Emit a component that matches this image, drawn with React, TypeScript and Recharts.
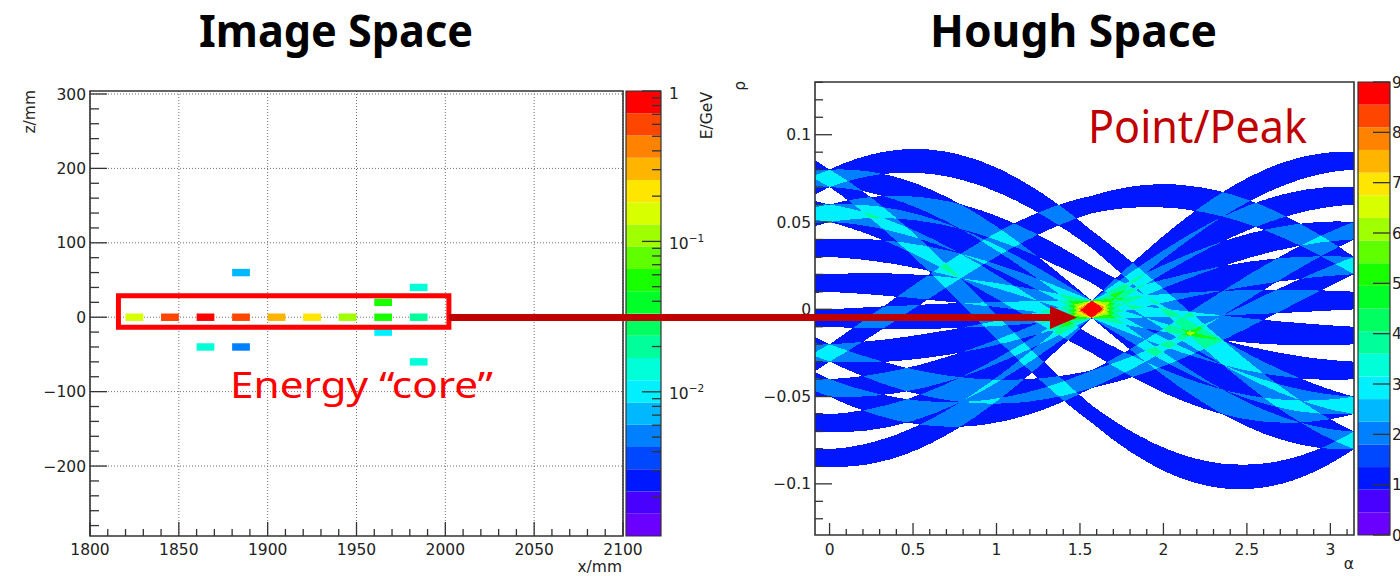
import React from 'react';
import { ComposedChart, XAxis, YAxis, CartesianGrid, ReferenceArea, Area } from 'recharts';

// ---------------- Image space: calorimeter cells (centre x, z in mm; energy in GeV) ----------------
const cellX = [1825, 1845, 1865, 1885, 1905, 1925, 1945, 1965, 1985, 1885, 1865, 1885, 1965, 1965, 1985, 1985];
const cellZ = [0, 0, 0, 0, 0, 0, 0, 0, 0, 60, -40, -40, 20, -20, 40, -60];
const cellE = [0.15, 0.6, 0.9, 0.6, 0.3, 0.21, 0.11, 0.05, 0.022, 0.007, 0.014, 0.005, 0.055, 0.01, 0.014, 0.014];
const CELL_SIZE = 10; // mm

const imgXDomain = [1800, 2100];
const imgZDomain = [-294, 304];
const imgXLabels = [1800, 1850, 1900, 1950, 2000, 2050, 2100];
const imgZLabels = [-200, -100, 0, 100, 200, 300];
const energyDomain = [0.0011, 1];
const energyLabels = [0.01, 0.1, 1];
const coreBoxX = [1816, 2002];
const coreBoxZ = [-13.5, 29];

// ---------------- Hough space ----------------
const alphaDomain = [-Math.PI / 36, Math.PI];
const rhoDomain = [-0.1293, 0.1302];
const alphaLabels = [0, 0.5, 1, 1.5, 2, 2.5, 3];
const rhoLabels = [-0.1, -0.05, 0, 0.05, 0.1];
const countDomain = [0, 9];
const countLabels = [0, 1, 2, 3, 4, 5, 6, 7, 8, 9];
const X_REF = 1910; // mm, x origin of the transform
const ALPHA_SAMPLES = 260;

// ---------------- palette (20 colour bands) ----------------
const PALETTE = ['#6a00ff', '#4800ff', '#0018ff', '#0048ff', '#0080ff', '#00b8ff', '#00f0ff', '#00ffd8', '#00ff9a', '#00ff60',
  '#00ff28', '#18ff00', '#60ff00', '#a0ff00', '#d8ff00', '#ffe600', '#ffb400', '#ff8200', '#ff4600', '#ff0000'];

const W = 1400, H = 576;
const AXIS = '#333';
const TICK_FONT = '"DejaVu Sans", "Liberation Sans", sans-serif';
const TITLE_FONT = '"Noto Sans", "Open Sans", sans-serif';

const LEFT_PLOT = { x0: 90, x1: 623, y0: 91, y1: 536 };
const LEFT_BAR = { x0: 626, x1: 661, y0: 91, y1: 536 };
const RIGHT_PLOT = { x0: 815, x1: 1354, y0: 82, y1: 535 };
const RIGHT_BAR = { x0: 1358, x1: 1390, y0: 82, y1: 535 };

const range = (a: number, b: number, step: number) => {
  const n = Math.round((b - a) / step);
  const out: number[] = [];
  for (let i = 0; i <= n; i++) out.push(+(a + i * step).toFixed(6));
  return out;
};

const imgXTicks = range(1800, 2100, 10);
const imgZTicks = range(-280, 300, 20);
const alphaTicks = range(0, 3.1, 0.1);
const rhoTicks = range(-0.12, 0.13, 0.01);
const energyTicks = [...range(0.002, 0.009, 0.001), ...range(0.01, 0.09, 0.01), ...range(0.1, 1, 0.1)];

const energyColor = (e: number) => {
  const l0 = Math.log10(energyDomain[0]), l1 = Math.log10(energyDomain[1]);
  const i = Math.floor(((Math.log10(e) - l0) / (l1 - l0)) * PALETTE.length);
  return PALETTE[Math.max(0, Math.min(PALETTE.length - 1, i))];
};
const countColor = (c: number) => {
  const i = Math.floor(((c - countDomain[0]) / (countDomain[1] - countDomain[0])) * PALETTE.length);
  return PALETTE[Math.max(0, Math.min(PALETTE.length - 1, i))];
};

// Hough transform of each cell: rho(alpha) = ((x - X_REF) cos a + z sin a) / 1000, band = projected cell size
const houghRows = Array.from({ length: ALPHA_SAMPLES + 1 }, (_, i) => {
  const a = alphaDomain[0] + ((alphaDomain[1] - alphaDomain[0]) * i) / ALPHA_SAMPLES;
  const c = Math.cos(a), s = Math.sin(a);
  const row: any = { a };
  cellX.forEach((x, k) => {
    const rho = ((x - X_REF) * c + cellZ[k] * s) / 1000;
    const hw = ((CELL_SIZE / 2) * (Math.abs(c) + Math.abs(s))) / 1000;
    row['b' + k] = [rho - hw, rho + hw];
  });
  return row;
});

// SVG filter: accumulated alpha of the overlapping bands -> overlap count -> palette colour
const BAND_OPACITY = 0.1;
const countFromAlpha = (a: number) =>
  a < 0.05 ? 0 : Math.max(1, Math.round(Math.log(1 - Math.min(a, 0.995)) / Math.log(1 - BAND_OPACITY)));
const channelTable = (ch: number) =>
  Array.from({ length: 256 }, (_, k) => {
    const c = countFromAlpha(k / 255);
    if (c === 0) return '1';
    const hex = countColor(Math.min(c, 9));
    return (parseInt(hex.slice(1 + 2 * ch, 3 + 2 * ch), 16) / 255).toFixed(4);
  }).join(' ');

const fmt = (v: number) => (v < 0 ? '\u2212' : '') + String(Math.abs(v));

type TickCfg = {
  side: 'bottom' | 'left' | 'right';
  major: number;
  minor: number;
  isMajor: (v: number) => boolean;
  label: (v: number) => React.ReactNode;
  gap: number;
  dy?: number;
};
const makeTick = (cfg: TickCfg) => (props: any) => {
  const { x, y, payload } = props;
  const v = payload.value as number;
  const maj = cfg.isMajor(v);
  const len = maj ? cfg.major : cfg.minor;
  const common = { fontFamily: TICK_FONT, fontSize: 15.5, fill: '#222' };
  if (cfg.side === 'bottom') {
    return (
      <g>
        <line x1={x} y1={y} x2={x} y2={y - len} stroke={AXIS} strokeWidth={1.3} />
        {maj && <text x={x} y={y + cfg.gap} textAnchor="middle" {...common}>{cfg.label(v)}</text>}
      </g>
    );
  }
  if (cfg.side === 'left') {
    return (
      <g>
        <line x1={x} y1={y} x2={x + len} y2={y} stroke={AXIS} strokeWidth={1.3} />
        {maj && <text x={x - cfg.gap} y={y + (cfg.dy || 0)} dy="0.36em" textAnchor="end" {...common}>{cfg.label(v)}</text>}
      </g>
    );
  }
  return (
    <g>
      <line x1={x} y1={y} x2={x - len} y2={y} stroke={AXIS} strokeWidth={1.3} />
      {maj && <text x={x + cfg.gap} y={y + (cfg.dy || 0)} dy="0.36em" textAnchor="start" {...common}>{cfg.label(v)}</text>}
    </g>
  );
};

const imgXTick = makeTick({ side: 'bottom', major: 14, minor: 7, isMajor: (v) => imgXLabels.includes(v), label: fmt, gap: 19 });
const imgZTick = makeTick({ side: 'left', major: 17, minor: 9, isMajor: (v) => imgZLabels.includes(v), label: fmt, gap: 4 });
const alphaTick = makeTick({ side: 'bottom', major: 12, minor: 6, isMajor: (v) => alphaLabels.some((l) => Math.abs(l - v) < 1e-6), label: fmt, gap: 19.5 });
const rhoTick = makeTick({ side: 'left', major: 17, minor: 8, isMajor: (v) => rhoLabels.some((l) => Math.abs(l - v) < 1e-6), label: fmt, gap: 4 });
const energyTick = makeTick({
  side: 'right', major: 19, minor: 9, gap: 8, dy: 2,
  isMajor: (v) => energyLabels.some((l) => Math.abs(l - v) < 1e-9),
  label: (v) => (v === 1 ? '1' : (
    <>
      <tspan>10</tspan>
      <tspan dy={-7} fontSize={10.5}>{'\u2212' + Math.round(-Math.log10(v))}</tspan>
    </>
  )),
});
const countTick = makeTick({ side: 'right', major: 17, minor: 17, gap: 2, isMajor: () => true, label: (v) => String(v) });

const plotMargin = (r: { x0: number; x1: number; y0: number; y1: number }) => ({
  left: r.x0 - 50, right: W - r.x1, top: r.y0, bottom: H - r.y1 - 30,
});
const barMargin = (r: { x0: number; x1: number; y0: number; y1: number }, axisW: number) => ({
  left: r.x0, right: W - r.x1 - axisW, top: r.y0, bottom: H - r.y1,
});

const abs: React.CSSProperties = { position: 'absolute', left: 0, top: 0 };

const cellRows = cellX.map((x, i) => ({ x, z: cellZ[i], e: cellE[i] }));

function ImageSpace() {
  return (
    <div style={abs}>
      <ComposedChart width={W} height={H} margin={plotMargin(LEFT_PLOT)} data={cellRows}>
        <XAxis type="number" dataKey="x" domain={imgXDomain} allowDataOverflow ticks={imgXTicks} interval={0}
          tickSize={0} tickMargin={0} tickLine={false} axisLine={false} height={30} tick={imgXTick} />
        <YAxis type="number" dataKey="z" domain={imgZDomain} allowDataOverflow ticks={imgZTicks} interval={0}
          tickSize={0} tickMargin={0} tickLine={false} axisLine={false} width={50} tick={imgZTick} />
        {cellRows.map((c, i) => (
          <ReferenceArea key={i} x1={c.x - CELL_SIZE / 2} x2={c.x + CELL_SIZE / 2} y1={c.z - CELL_SIZE / 2} y2={c.z + CELL_SIZE / 2}
            fill={energyColor(c.e)} fillOpacity={1} stroke="none" ifOverflow="visible" />
        ))}
        <CartesianGrid horizontalValues={imgZLabels} verticalValues={imgXLabels} stroke="#6f6f6f" strokeDasharray="1 2" />
        <ReferenceArea x1={imgXDomain[0]} x2={imgXDomain[1]} y1={imgZDomain[0]} y2={imgZDomain[1]} fill="none"
          stroke={AXIS} strokeWidth={1.6} ifOverflow="visible" />
        <ReferenceArea x1={coreBoxX[0]} x2={coreBoxX[1]} y1={coreBoxZ[0]} y2={coreBoxZ[1]} fill="none"
          stroke="#ff0000" strokeWidth={5} ifOverflow="visible" />
      </ComposedChart>
    </div>
  );
}

function EnergyBar() {
  const l0 = Math.log10(energyDomain[0]), l1 = Math.log10(energyDomain[1]);
  const edges = PALETTE.map((_, i) => Math.pow(10, l0 + ((l1 - l0) * i) / PALETTE.length)).concat([energyDomain[1]]);
  return (
    <div style={abs}>
      <ComposedChart width={W} height={H} margin={barMargin(LEFT_BAR, 40)} data={[{ u: 0 }, { u: 1 }]}>
        <XAxis type="number" dataKey="u" domain={[0, 1]} hide allowDataOverflow />
        <YAxis type="number" orientation="right" scale="log" domain={energyDomain} allowDataOverflow ticks={energyTicks}
          interval={0} tickSize={0} tickMargin={0} tickLine={false} axisLine={false} width={40} tick={energyTick} />
        {PALETTE.map((col, i) => (
          <ReferenceArea key={i} x1={0} x2={1} y1={edges[i]} y2={edges[i + 1]} fill={col} fillOpacity={1} stroke="none" ifOverflow="visible" />
        ))}
        <ReferenceArea x1={0} x2={1} y1={energyDomain[0]} y2={energyDomain[1]} fill="none" stroke={AXIS} strokeWidth={1.2} ifOverflow="visible" />
      </ComposedChart>
    </div>
  );
}

function HoughBands() {
  const w = RIGHT_PLOT.x1 - RIGHT_PLOT.x0, h = RIGHT_PLOT.y1 - RIGHT_PLOT.y0;
  return (
    <div style={{ position: 'absolute', left: RIGHT_PLOT.x0, top: RIGHT_PLOT.y0, width: w, height: h, filter: 'url(#houghCounts)' }}>
      <ComposedChart width={w} height={h} margin={{ top: 0, right: 0, bottom: 0, left: 0 }} data={houghRows}>
        <XAxis type="number" dataKey="a" domain={alphaDomain} allowDataOverflow hide height={0} />
        <YAxis type="number" domain={rhoDomain} allowDataOverflow hide width={0} />
        {cellX.map((_, k) => (
          <Area key={k} dataKey={'b' + k} type="linear" fill="#000" fillOpacity={BAND_OPACITY} stroke="none"
            dot={false} activeDot={false} isAnimationActive={false} />
        ))}
      </ComposedChart>
    </div>
  );
}

function HoughAxes() {
  return (
    <div style={abs}>
      <ComposedChart width={W} height={H} margin={plotMargin(RIGHT_PLOT)} data={houghRows}>
        <XAxis type="number" dataKey="a" domain={alphaDomain} allowDataOverflow ticks={alphaTicks} interval={0}
          tickSize={0} tickMargin={0} tickLine={false} axisLine={false} height={30} tick={alphaTick} />
        <YAxis type="number" domain={rhoDomain} allowDataOverflow ticks={rhoTicks} interval={0}
          tickSize={0} tickMargin={0} tickLine={false} axisLine={false} width={50} tick={rhoTick} />
        <ReferenceArea x1={alphaDomain[0]} x2={alphaDomain[1]} y1={rhoDomain[0]} y2={rhoDomain[1]} fill="none"
          stroke={AXIS} strokeWidth={1.6} ifOverflow="visible" />
      </ComposedChart>
    </div>
  );
}

function CountBar() {
  const edges = PALETTE.map((_, i) => countDomain[0] + ((countDomain[1] - countDomain[0]) * i) / PALETTE.length).concat([countDomain[1]]);
  return (
    <div style={abs}>
      <ComposedChart width={W} height={H} margin={barMargin(RIGHT_BAR, 10)} data={[{ u: 0 }, { u: 1 }]}>
        <XAxis type="number" dataKey="u" domain={[0, 1]} hide allowDataOverflow />
        <YAxis type="number" orientation="right" domain={countDomain} allowDataOverflow ticks={countLabels}
          interval={0} tickSize={0} tickMargin={0} tickLine={false} axisLine={false} width={10} tick={countTick} />
        {PALETTE.map((col, i) => (
          <ReferenceArea key={i} x1={0} x2={1} y1={edges[i]} y2={edges[i + 1]} fill={col} fillOpacity={1} stroke="none" ifOverflow="visible" />
        ))}
        <ReferenceArea x1={0} x2={1} y1={countDomain[0]} y2={countDomain[1]} fill="none" stroke={AXIS} strokeWidth={1.2} ifOverflow="visible" />
      </ComposedChart>
    </div>
  );
}

function Annotations() {
  const axisText = { fontFamily: TICK_FONT, fontSize: 15.5, fill: '#222' };
  return (
    <svg width={W} height={H} style={{ ...abs, pointerEvents: 'none' }}>
      <text x={336} y={47} textAnchor="middle" fontFamily={TITLE_FONT} fontWeight={700} fontSize={44} fill="#000"
        textLength={274} lengthAdjust="spacingAndGlyphs">Image Space</text>
      <text x={1073.5} y={47} textAnchor="middle" fontFamily={TITLE_FONT} fontWeight={700} fontSize={44} fill="#000"
        textLength={287} lengthAdjust="spacingAndGlyphs">Hough Space</text>

      <text x={35} y={90} transform="rotate(-90 35 90)" textAnchor="end" {...axisText}>z/mm</text>
      <text x={622} y={572} textAnchor="end" {...axisText}>x/mm</text>
      <text x={712} y={92} transform="rotate(-90 712 92)" textAnchor="end" {...axisText}>E/GeV</text>
      <text x={745} y={81} transform="rotate(-90 745 81)" textAnchor="end" {...axisText}>ρ</text>
      <text x={1354} y={569} textAnchor="end" {...axisText}>α</text>

      <text x={230} y={398} fontFamily={TITLE_FONT} fontSize={37} fill="#ff0000"
        textLength={263} lengthAdjust="spacingAndGlyphs">Energy “core”</text>
      <text x={1088} y={142.7} fontFamily={TITLE_FONT} fontSize={46} fill="#c00000"
        textLength={219} lengthAdjust="spacingAndGlyphs">Point/Peak</text>

      <line x1={449} y1={317.5} x2={1052} y2={317.5} stroke="#c00000" strokeWidth={7} />
      <polygon points="1050,306 1077,317.5 1050,329" fill="#c00000" />
    </svg>
  );
}

export default function App() {
  return (
    <div style={{ position: 'fixed', left: 0, top: 0, width: W, height: H, overflow: 'hidden', background: '#fff' }}>
      <svg width={0} height={0} style={{ position: 'absolute' }}>
        <defs>
          <filter id="houghCounts" colorInterpolationFilters="sRGB">
            <feColorMatrix type="matrix" values="0 0 0 1 0  0 0 0 1 0  0 0 0 1 0  0 0 0 0 1" />
            <feComponentTransfer>
              <feFuncR type="discrete" tableValues={channelTable(0)} />
              <feFuncG type="discrete" tableValues={channelTable(1)} />
              <feFuncB type="discrete" tableValues={channelTable(2)} />
            </feComponentTransfer>
          </filter>
        </defs>
      </svg>
      <HoughBands />
      <ImageSpace />
      <EnergyBar />
      <HoughAxes />
      <CountBar />
      <Annotations />
    </div>
  );
}
